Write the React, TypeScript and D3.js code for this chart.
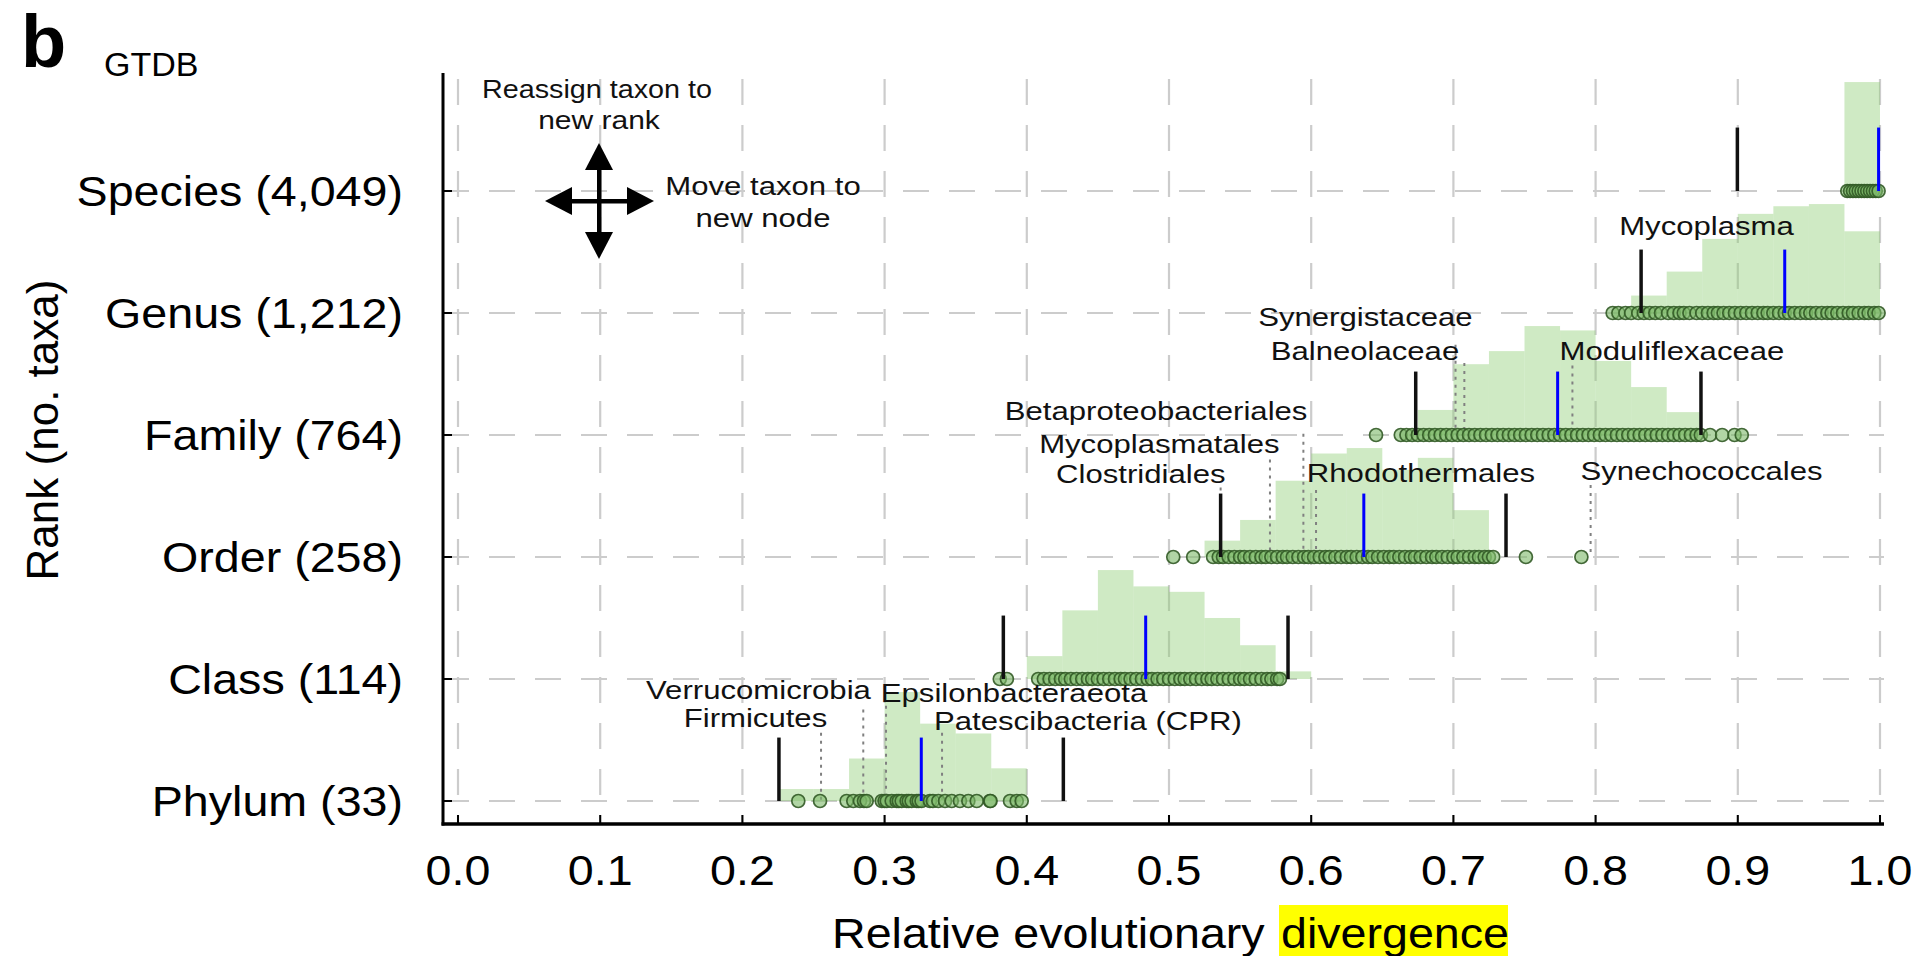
import React from "react";
import * as d3 from "d3";

// ---------- data ----------
const ranks = ["Species (4,049)", "Genus (1,212)", "Family (764)", "Order (258)", "Class (114)", "Phylum (33)"];
const xTicks = [0, 0.1, 0.2, 0.3, 0.4, 0.5, 0.6, 0.7, 0.8, 0.9, 1.0];
const binWidth = 0.025;

// histogram: first bin start + relative heights (max = 1)
const histStart = [0.975, 0.825, 0.675, 0.525, 0.4, 0.225];
const histSpecies = [1.0];
const histGenus = [0.16, 0.38, 0.68, 0.91, 0.98, 1.0, 0.75];
const histFamily = [0.23, 0.65, 0.77, 1.0, 0.96, 0.68, 0.44, 0.21];
const histOrder = [0.15, 0.34, 0.7, 0.95, 1.0, 0.8, 0.91, 0.43];
const histClass = [0.21, 0.63, 1.0, 0.85, 0.8, 0.56, 0.31, 0.07];
const histPhylum = [0.11, 0.11, 0.39, 1.0, 0.71, 0.62, 0.3];

// median (blue) and +/-0.1 (black)
const medians = [0.999, 0.933, 0.7733, 0.637, 0.4836, 0.3258];
const lowerBounds = [0.8997, 0.832, 0.6735, 0.5363, 0.3835, 0.2257];
const upperBounds = [null, null, 0.8741, 0.737, 0.5837, 0.4257];

// taxa RED values
const ptsSpecies = [0.977, 0.979, 0.981, 0.983, 0.985, 0.987, 0.989, 0.991, 0.993, 0.995, 0.997, 0.999];
const ptsGenus = [0.812, 0.816, 0.821, 0.825, 0.83, 0.834, 0.838, 0.842, 0.846, 0.851, 0.855, 0.859, 0.862, 0.866, 0.871, 0.875, 0.879, 0.883, 0.886, 0.89, 0.894, 0.898, 0.902, 0.906, 0.91, 0.914, 0.918, 0.921, 0.925, 0.929, 0.933, 0.936, 0.94, 0.944, 0.948, 0.951, 0.955, 0.959, 0.963, 0.966, 0.97, 0.974, 0.978, 0.981, 0.985, 0.989, 0.992, 0.996, 0.999];
const ptsFamily = [0.6456, 0.663, 0.667, 0.671, 0.675, 0.679, 0.683, 0.687, 0.691, 0.695, 0.699, 0.703, 0.707, 0.711, 0.715, 0.719, 0.723, 0.727, 0.731, 0.735, 0.739, 0.743, 0.747, 0.751, 0.755, 0.759, 0.763, 0.767, 0.771, 0.775, 0.779, 0.783, 0.787, 0.791, 0.795, 0.799, 0.803, 0.807, 0.811, 0.815, 0.819, 0.823, 0.827, 0.831, 0.835, 0.839, 0.843, 0.847, 0.851, 0.855, 0.859, 0.863, 0.867, 0.871, 0.874, 0.8805, 0.889, 0.8977, 0.9028];
const ptsOrder = [0.503, 0.517, 0.531, 0.535, 0.538, 0.542, 0.546, 0.55, 0.553, 0.557, 0.561, 0.565, 0.568, 0.572, 0.576, 0.58, 0.583, 0.587, 0.591, 0.595, 0.598, 0.602, 0.606, 0.61, 0.613, 0.617, 0.621, 0.625, 0.628, 0.632, 0.636, 0.64, 0.643, 0.647, 0.651, 0.655, 0.658, 0.662, 0.666, 0.67, 0.673, 0.677, 0.681, 0.685, 0.688, 0.692, 0.696, 0.7, 0.703, 0.707, 0.711, 0.715, 0.718, 0.722, 0.725, 0.728, 0.751, 0.79];
const ptsClass = [0.381, 0.386, 0.408, 0.412, 0.416, 0.42, 0.424, 0.427, 0.431, 0.435, 0.439, 0.443, 0.446, 0.45, 0.454, 0.458, 0.462, 0.466, 0.469, 0.473, 0.477, 0.481, 0.485, 0.488, 0.492, 0.496, 0.5, 0.504, 0.508, 0.511, 0.515, 0.519, 0.523, 0.527, 0.53, 0.534, 0.538, 0.542, 0.546, 0.55, 0.553, 0.557, 0.561, 0.565, 0.569, 0.572, 0.576, 0.578];
const ptsPhylum = [0.2393, 0.2546, 0.2733, 0.278, 0.2827, 0.2855, 0.2874, 0.298, 0.3, 0.3015, 0.305, 0.3085, 0.31, 0.312, 0.3155, 0.317, 0.319, 0.3226, 0.324, 0.326, 0.3319, 0.334, 0.3378, 0.3425, 0.3472, 0.353, 0.3589, 0.3648, 0.3741, 0.3745, 0.3882, 0.3929, 0.3964];

// named taxa: dotted markers (value, height in row units)
const marksFamily = [{ v: 0.7015, top: 0.74 }, { v: 0.7077, top: 0.59 }, { v: 0.7837, top: 0.57 }];
const marksOrder = [{ v: 0.5363, top: 0.57 }, { v: 0.571, top: 0.8 }, { v: 0.5945, top: 1.01 }, { v: 0.6034, top: 0.55 }, { v: 0.7965, top: 0.59 }];
const marksPhylum = [{ v: 0.2553, top: 0.56 }, { v: 0.285, top: 0.75 }, { v: 0.301, top: 0.78 }, { v: 0.3404, top: 0.56 }];

// labels: centre value, baseline height in row units
const labelsGenus = [{ text: "Mycoplasma", v: 0.878, dy: 0.64 }];
const labelsFamily = [
  { text: "Synergistaceae", v: 0.6381, dy: 0.893 },
  { text: "Balneolaceae", v: 0.6378, dy: 0.615 },
  { text: "Moduliflexaceae", v: 0.8537, dy: 0.615 },
];
const labelsOrder = [
  { text: "Betaproteobacteriales", v: 0.4909, dy: 1.12 },
  { text: "Mycoplasmatales", v: 0.4932, dy: 0.855 },
  { text: "Clostridiales", v: 0.4802, dy: 0.61 },
  { text: "Rhodothermales", v: 0.6772, dy: 0.617 },
  { text: "Synechococcales", v: 0.8745, dy: 0.63 },
];
const labelsPhylum = [
  { text: "Verrucomicrobia", v: 0.2113, dy: 0.836 },
  { text: "Firmicutes", v: 0.2092, dy: 0.607 },
  { text: "Epsilonbacteraeota", v: 0.391, dy: 0.81 },
  { text: "Patescibacteria (CPR)", v: 0.443, dy: 0.58 },
];

const hists = [histSpecies, histGenus, histFamily, histOrder, histClass, histPhylum];
const points = [ptsSpecies, ptsGenus, ptsFamily, ptsOrder, ptsClass, ptsPhylum];
const marks = [[], [], marksFamily, marksOrder, [], marksPhylum];
const labels = [[], labelsGenus, labelsFamily, labelsOrder, [], labelsPhylum];

const FONT = "'Liberation Sans', Arial, Helvetica, sans-serif";

export default function App() {
  const W = 1920;
  const H = 956;
  const x = d3.scaleLinear().domain([0, 1]).range([458, 1880]);
  const y = d3.scalePoint<string>().domain(ranks).range([191, 801]);
  const step = y.step();
  const h = d3.scaleLinear().domain([0, 1]).range([0, step * 0.893]);
  const axisX = 443;
  const axisY = 824;
  const plotTop = 73;
  const plotRight = 1884;
  const lineH = step * 0.52;

  const labelStretch = 1.245;
  const axisStretch = 1.11;

  return (
    <svg width={W} height={H} style={{ position: "absolute", left: 0, top: 0, background: "#fff" }} fontFamily={FONT}>
      <rect x={0} y={0} width={W} height={H} fill="#fff" />
      {/* grid */}
      <g stroke="#cccccc" strokeWidth={2.2} strokeDasharray="26 20" fill="none">
        {xTicks.map((t) => (
          <line key={"gv" + t} x1={x(t)} x2={x(t)} y1={plotTop + 6} y2={axisY} />
        ))}
        {ranks.map((r) => (
          <line key={"gh" + r} x1={axisX} x2={plotRight} y1={y(r)} y2={y(r)} />
        ))}
      </g>
      {/* histograms */}
      {ranks.map((r, i) => {
        const base = y(r)!;
        return (
          <g key={"hist" + r} fill="rgb(140,205,115)" fillOpacity={0.42}>
            {hists[i].map((v, j) => {
              const x0 = x(histStart[i] + j * binWidth);
              const x1 = x(histStart[i] + (j + 1) * binWidth);
              return <rect key={j} x={x0} y={base - h(v)} width={x1 - x0} height={h(v)} />;
            })}
          </g>
        );
      })}
      {/* dotted markers */}
      {ranks.map((r, i) => {
        const base = y(r)!;
        return (
          <g key={"mk" + r} stroke="#808080" strokeWidth={2} strokeDasharray="3 5">
            {marks[i].map((m, j) => (
              <line key={j} x1={x(m.v)} x2={x(m.v)} y1={base - m.top * step} y2={base} />
            ))}
          </g>
        );
      })}
      {/* points */}
      {ranks.map((r, i) => {
        const base = y(r)!;
        return (
          <g key={"pt" + r} fill="rgb(125,185,105)" fillOpacity={0.6} stroke="rgb(50,90,38)" strokeOpacity={0.9} strokeWidth={1.7}>
            {points[i].map((v, j) => (
              <circle key={j} cx={x(v)} cy={base} r={6.5} />
            ))}
          </g>
        );
      })}
      {/* median and bounds */}
      {ranks.map((r, i) => {
        const base = y(r)!;
        const ub = upperBounds[i];
        return (
          <g key={"ln" + r} strokeWidth={3.5}>
            <line x1={x(lowerBounds[i])} x2={x(lowerBounds[i])} y1={base - lineH} y2={base} stroke="#111" />
            {ub !== null && <line x1={x(ub)} x2={x(ub)} y1={base - lineH} y2={base} stroke="#111" />}
            <line x1={x(medians[i])} x2={x(medians[i])} y1={base - lineH} y2={base} stroke="#0000ff" strokeWidth={3} />
          </g>
        );
      })}
      {/* taxon labels */}
      {ranks.map((r, i) => {
        const base = y(r)!;
        return (
          <g key={"lb" + r} fontSize={25} fill="#111" textAnchor="middle">
            {labels[i].map((l, j) => (
              <text key={j} transform={`translate(${x(l.v)},${base - l.dy * step}) scale(${labelStretch},1)`}>
                {l.text}
              </text>
            ))}
          </g>
        );
      })}
      {/* axes */}
      <line x1={axisX} x2={axisX} y1={plotTop} y2={axisY + 1.5} stroke="#000" strokeWidth={3} />
      <line x1={axisX - 1.5} x2={plotRight} y1={axisY} y2={axisY} stroke="#000" strokeWidth={3.5} />
      {xTicks.map((t) => (
        <line key={"xt" + t} x1={x(t)} x2={x(t)} y1={axisY} y2={axisY - 9} stroke="#000" strokeWidth={2} />
      ))}
      {ranks.map((r) => (
        <line key={"yt" + r} x1={axisX} x2={axisX + 9} y1={y(r)} y2={y(r)} stroke="#000" strokeWidth={2} />
      ))}
      {xTicks.map((t) => (
        <text key={"xl" + t} transform={`translate(${x(t)},885) scale(${axisStretch},1)`} fontSize={42} textAnchor="middle" fill="#000">
          {d3.format(".1f")(t)}
        </text>
      ))}
      {ranks.map((r) => (
        <text key={"yl" + r} transform={`translate(403,${y(r)! + 15}) scale(${axisStretch},1)`} fontSize={42} textAnchor="end" fill="#000">
          {r}
        </text>
      ))}
      <text transform="translate(58,430) rotate(-90)" fontSize={44} textAnchor="middle" fill="#000">
        Rank (no. taxa)
      </text>
      {/* x title */}
      <rect x={1279} y={905} width={229} height={51} fill="#ffff00" />
      <text transform={`translate(832,948) scale(${axisStretch},1)`} fontSize={42} fill="#000">
        Relative evolutionary
      </text>
      <text transform={`translate(1281,948) scale(${axisStretch},1)`} fontSize={42} fill="#000">
        divergence
      </text>
      {/* panel letter + title */}
      <text x={21} y={67} fontSize={74} fontWeight="bold" fill="#000">b</text>
      <text x={104} y={76} fontSize={34} fill="#000">GTDB</text>
      {/* legend cross */}
      <g fill="#000" stroke="none">
        <rect x={597} y={160} width={4.5} height={82} />
        <rect x={565} y={199} width={70} height={4.5} />
        <path d="M599,143 L585,170 L613,170 Z" />
        <path d="M599,259 L585,232 L613,232 Z" />
        <path d="M545,201 L572,187 L572,215 Z" />
        <path d="M654,201 L627,187 L627,215 Z" />
      </g>
      <g fontSize={25} fill="#111" textAnchor="middle">
        <text transform="translate(597,98) scale(1.15,1)">Reassign taxon to</text>
        <text transform="translate(599,129) scale(1.2,1)">new rank</text>
        <text transform={`translate(763,195) scale(${labelStretch},1)`}>Move taxon to</text>
        <text transform={`translate(763,227) scale(${labelStretch},1)`}>new node</text>
      </g>
    </svg>
  );
}
